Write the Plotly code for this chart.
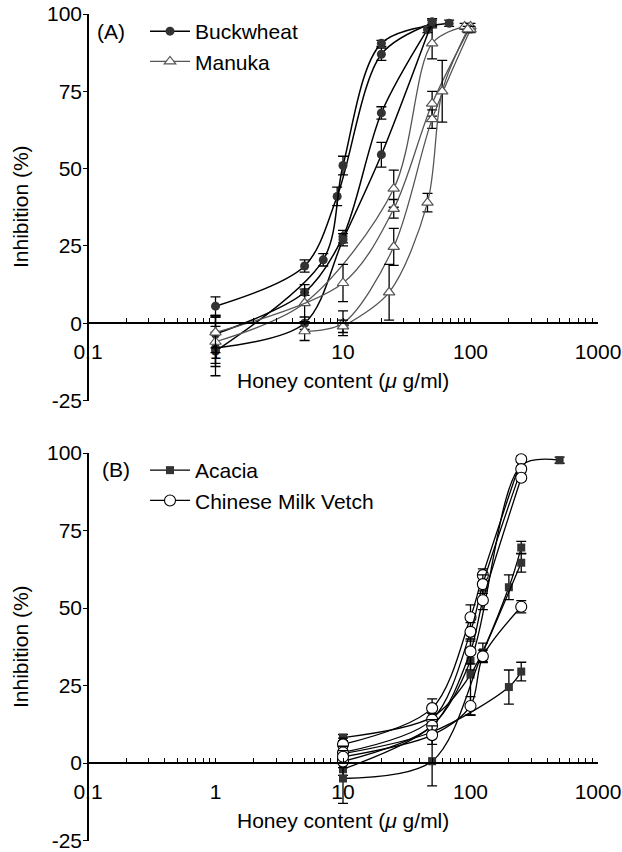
import plotly.graph_objects as go

# ---------------- data ----------------
# Panel A
buck_x = [[1, 5, 9, 20, 50], [1, 7, 10, 20, 68], [1, 5, 10, 20, 46], [1, 5, 10, 20, 50]]
buck_y = [[5.5, 18.5, 41, 87, 97], [-9, 20.5, 51, 90.5, 97], [-3.5, 10, 28, 68, 95], [-8, 0, 27, 54.5, 97.5]]
buck_e = [[3, 2, 3, 2, 1], [8, 2, 3, 1, 1], [6, 1, 2, 2, 1], [5, 2, 2, 4, 1]]

manu_x = [[1, 5, 25, 50, 90], [1, 10, 25, 50, 100], [5, 10, 25, 50, 100], [10, 23, 46, 60, 95]]
manu_y = [[-6, 6.5, 43.5, 90.5, 96], [-3, 13, 37, 71, 96], [-2.6, 0, 24.7, 66, 95], [-1, 10, 39, 75, 95]]
manu_e = [[8, 6, 6, 5, 1], [5, 6, 3, 4, 1], [3, 4, 6, 3, 1], [2, 9, 3, 10, 1]]

# Panel B
acac_x = [[10, 50, 100, 250, 500], [10, 50, 100, 200, 250], [10, 50, 125, 250], [10, 50, 200, 250]]
acac_y = [[-2, 12, 33, 96, 97.7], [8.2, 14.8, 28.5, 56.7, 69.5], [-5, 0.6, 35.7, 64.6], [3, 10, 24.5, 29.5]]
acac_e = [[2, 2, 3, 1, 1], [1, 2, 13, 4, 2], [8, 8, 3, 3], [2, 2, 5.5, 3]]

cmv_x = [[10, 50, 100, 125, 250], [10, 50, 100, 125, 250], [10, 50, 100, 125, 250], [10, 50, 100, 125, 250]]
cmv_y = [[6, 17.7, 47, 60.6, 98], [3.4, 14, 42.3, 57.7, 94.8], [0.5, 12, 36, 52.5, 92], [2, 9, 18.4, 34.4, 50.4]]
cmv_e = [[2, 3, 4, 2, 1], [2, 2, 3, 3, 1], [2, 2, 4, 3, 1], [2, 3, 3, 2, 2]]

major_ticks = [0.1, 1, 10, 100, 1000]
major_labels = ["0.1", "1", "10", "100", "1000"]
y_ticks = [-25, 0, 25, 50, 75, 100]
y_labels = ["-25", "0", "25", "50", "75", "100"]

# ---------------- layout geometry ----------------
W, H = 622, 852
FONT = "Arial, Liberation Sans, Helvetica, sans-serif"
FS = 21
x_dom = [88 / W, 598 / W]
domA = [1 - 400.5 / H, 1 - 14 / H]
domB = [1 - 840.5 / H, 1 - 453 / H]
ymin, ymax = -25, 100


def zero_pos(dom):
    return dom[0] + (0 - ymin) / (ymax - ymin) * (dom[1] - dom[0])


# tick positions (major + minor) with labels only at decades
tickvals, ticktext = [], []
for d in major_ticks[:-1]:
    for m in range(1, 10):
        v = round(d * m, 6)
        tickvals.append(v)
        ticktext.append(major_labels[major_ticks.index(d)] if m == 1 else "")
tickvals.append(major_ticks[-1])
ticktext.append(major_labels[-1])

fig = go.Figure()


def add_series(xs, ys, es, name, marker, line, xa, ya, legend):
    for i, (x, y, e) in enumerate(zip(xs, ys, es)):
        fig.add_trace(go.Scatter(
            x=x, y=y, mode="lines+markers", name=name,
            line=dict(shape="spline", smoothing=0.9, **line),
            marker=marker,
            error_y=dict(type="data", array=e, visible=True, color="black", thickness=1.3, width=5),
            xaxis=xa, yaxis=ya, legend=legend, legendgroup=name,
            showlegend=(i == 0),
        ))


add_series(buck_x, buck_y, buck_e, "Buckwheat",
           dict(symbol="circle", size=9, color="#333333", line=dict(width=0)),
           dict(color="black", width=1.5), "x", "y", "legend")
add_series(manu_x, manu_y, manu_e, "Manuka",
           dict(symbol="triangle-up", size=10, color="white", line=dict(width=1.2, color="#555555")),
           dict(color="#555555", width=1.3), "x", "y", "legend")
add_series(acac_x, acac_y, acac_e, "Acacia",
           dict(symbol="square", size=8, color="#333333", line=dict(width=0)),
           dict(color="black", width=1.3), "x2", "y2", "legend2")
add_series(cmv_x, cmv_y, cmv_e, "Chinese Milk Vetch",
           dict(symbol="circle", size=11, color="white", line=dict(width=1.1, color="black")),
           dict(color="black", width=1.3), "x2", "y2", "legend2")

xcommon = dict(type="log", range=[-1, 3], domain=x_dom, anchor="free",
               showline=True, linecolor="black", linewidth=1.5,
               ticks="inside", ticklen=4, tickwidth=1.2, tickcolor="black",
               tickvals=tickvals, ticktext=ticktext, ticklabelstandoff=10,
               showgrid=False, zeroline=False, automargin=False,
               tickfont=dict(family=FONT, size=FS, color="black"))
ycommon = dict(range=[ymin, ymax], tickvals=y_ticks, ticktext=y_labels, showline=True,
               linecolor="black", linewidth=1.5, ticks="outside", ticklen=4, tickwidth=1.3,
               tickcolor="black", showgrid=False, zeroline=False, automargin=False,
               ticklabelstandoff=-3,
               tickfont=dict(family=FONT, size=FS, color="black"))

legcommon = dict(font=dict(family=FONT, size=FS, color="black"), bgcolor="rgba(0,0,0,0)",
                 xanchor="left", yanchor="top", itemwidth=40, tracegroupgap=13,
                 traceorder="normal")


def ann(text, x, y, angle=0):
    return dict(text=text, x=x / W, y=1 - y / H, xref="paper", yref="paper", showarrow=False,
                xanchor="center", yanchor="middle", textangle=angle,
                font=dict(family=FONT, size=FS, color="black"))


fig.update_layout(
    width=W, height=H, margin=dict(l=0, r=0, t=0, b=0),
    paper_bgcolor="white", plot_bgcolor="white",
    font=dict(family=FONT, size=FS, color="black"),
    xaxis=dict(**xcommon, position=zero_pos(domA)),
    yaxis=dict(**ycommon, domain=domA, anchor="free", position=x_dom[0]),
    xaxis2=dict(**xcommon, position=zero_pos(domB)),
    yaxis2=dict(**ycommon, domain=domB, anchor="free", position=x_dom[0]),
    legend=dict(**legcommon, x=145 / W, y=1 - 11 / H),
    legend2=dict(**legcommon, x=145 / W, y=1 - 450 / H),
    annotations=[
        ann("(A)", 111, 31),
        ann("(B)", 116, 469),
        ann("Honey content (<i>μ</i> g/ml)", 343, 381),
        ann("Honey content (<i>μ</i> g/ml)", 343, 820),
        ann("Inhibition (%)", 20, 207, -90),
        ann("Inhibition (%)", 20, 647, -90),
    ],
)

fig.write_html("out.html")
